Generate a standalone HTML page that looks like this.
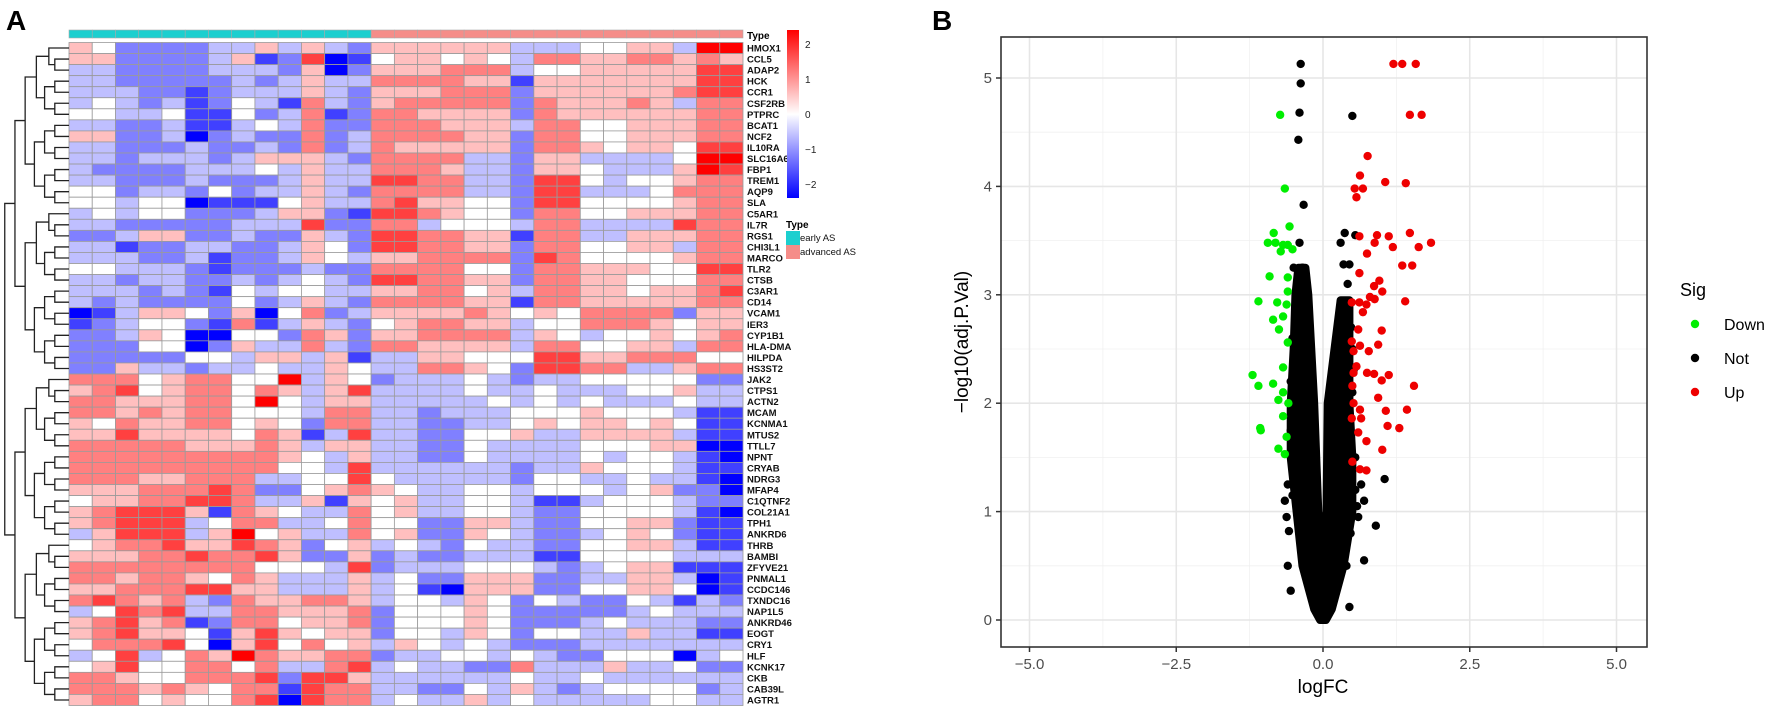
<!DOCTYPE html>
<html><head><meta charset="utf-8"><style>
html,body{margin:0;padding:0;background:#fff;}
svg{display:block;font-family:"Liberation Sans",Arial,sans-serif;}
</style></head><body>
<svg id="fig" width="1772" height="716" viewBox="0 0 1772 716" xmlns="http://www.w3.org/2000/svg">
<text x="6" y="30" font-size="28" font-weight="bold">A</text>
<text x="932" y="30" font-size="28" font-weight="bold">B</text>
<g id="heat"></g>
<g id="volc"></g>
</svg>
<script>
// ---------- Heatmap data ----------
const genes = ["HMOX1","CCL5","ADAP2","HCK","CCR1","CSF2RB","PTPRC","BCAT1","NCF2","IL10RA","SLC16A6","FBP1","TREM1","AQP9","SLA","C5AR1","IL7R","RGS1","CHI3L1","MARCO","TLR2","CTSB","C3AR1","CD14","VCAM1","IER3","CYP1B1","HLA-DMA","HILPDA","HS3ST2","JAK2","CTPS1","ACTN2","MCAM","KCNMA1","MTUS2","TTLL7","NPNT","CRYAB","NDRG3","MFAP4","C1QTNF2","COL21A1","TPH1","ANKRD6","THRB","BAMBI","ZFYVE21","PNMAL1","CCDC146","TXNDC16","NAP1L5","ANKRD46","EOGT","CRY1","HLF","KCNK17","CKB","CAB39L","AGTR1"];
const sampleTypes = ["early","early","early","early","early","early","early","early","early","early","early","early","early","advanced","advanced","advanced","advanced","advanced","advanced","advanced","advanced","advanced","advanced","advanced","advanced","advanced","advanced","advanced","advanced"];
// levels 0..8 -> z-score (L-4)*0.6
const levelRows = [
"5422223353532"+"5555553334455388",
"5522223512701"+"4554543665566565",
"3322223332502"+"5556663445555577",
"3322222323533"+"6666551555555577",
"3332212333532"+"5556662555555677",
"3432312431632"+"5666662655565366",
"4433411423612"+"6655552655555566",
"3322311343622"+"6665553664455566",
"5522302322623"+"6666552664455566",
"3322232232623"+"6555552665455477",
"3323332355532"+"6666332553333488",
"3222233343533"+"6665332554333587",
"3322232223533"+"7766332774344566",
"4423324233532"+"6666332773334666",
"4434401114533"+"6755442774444566",
"3434422235521"+"7765442664455566",
"3322222333722"+"6634443663333766",
"2235522322532"+"7766551663355566",
"3312233223542"+"7766552664455366",
"3332231223543"+"5566662764444566",
"4433321222322"+"6666442665554477",
"3323322323432"+"7766552665544466",
"3332321434433"+"5566453665545567",
"3232222423532"+"6666551665555566",
"0135542504623"+"5555654546666255",
"1234421613532"+"4566553446665455",
"2235400442652"+"5566663543445456",
"2224402533632"+"6655553664455366",
"2222244355351"+"3355444775566644",
"2253323343354"+"3366542776633566",
"6664566448354"+"2333432334444422",
"5674566465357"+"3333433433344533",
"6655566484355"+"3333343434333433",
"6656566444366"+"3323334445444311",
"5465566454266"+"3322334545545411",
"5575555465137"+"3322445335555311",
"6666655565355"+"3322433334445500",
"6666666665435"+"3322433334344310",
"6666666664437"+"3333332335444311",
"6665566633447"+"4333332443343310",
"5556667622456"+"5433443444345220",
"4556677633515"+"4533443113444322",
"5677751654336"+"4533443224444310",
"5677734663346"+"4422553224455211",
"3577735845336"+"4522543223454211",
"4566755765245"+"3432433224455311",
"5556676675225"+"2322333114444333",
"6666666644437"+"2333444323455111",
"6656654653335"+"3422555223355301",
"5566677553335"+"3410555224455401",
"6765632655665"+"3443542432243132",
"3476733665556"+"2444542222234333",
"5675612664556"+"2444542223433322",
"5675541575455"+"2443542443353311",
"4666740574645"+"3543432223333333",
"3473465865566"+"2334434322444034",
"4574466463367"+"3433226333533422",
"6654466672775"+"3333334334333333",
"6665654661766"+"3322435323444423",
"5664544670766"+"3433534333334433"
];
const hmLeft = 69, hmTop = 42.5, cellW = (743-69)/29, cellH = 11.05;
const SVGNS = "http://www.w3.org/2000/svg";
function mk(tag, attrs, parent){ const e=document.createElementNS(SVGNS,tag); for(const k in attrs) e.setAttribute(k,attrs[k]); parent.appendChild(e); return e; }
function zToColor(z){ let t=Math.max(-1,Math.min(1,z/2.4)); let r,g,b; if(t>=0){r=255;g=Math.round(255*(1-t));b=g;} else {b=255;r=Math.round(255*(1+t));g=r;} return `rgb(${r},${g},${b})`; }
const heat = document.getElementById('heat');
// annotation bar
sampleTypes.forEach((t,j)=>{
  const r = mk('rect',{x:hmLeft+j*cellW,y:30,width:cellW,height:8,fill:t==="early"?"#1ccfcf":"#f58d89",stroke:"#aaa","stroke-width":0.6},heat);
  
  
});
const tlab = mk('text',{x:747,y:39,"font-size":10,"font-weight":"bold"},heat); tlab.textContent="Type";
 
// cells
levelRows.forEach((row,i)=>{
  for(let j=0;j<29;j++){
    const z=(parseInt(row[j])-4)*0.6;
    const c = mk('rect',{x:hmLeft+j*cellW,y:hmTop+i*cellH,width:cellW,height:cellH,fill:zToColor(z),stroke:"#9a9a9a","stroke-width":0.8},heat);
    
    
  }
  const g = mk('text',{x:747,y:hmTop+i*cellH+cellH/2+3.5,"font-size":9.5,"font-weight":"bold",fill:"#111"},heat);
  g.textContent = genes[i];
  
  
});
// dendrogram
function dendro(a,b){ // returns [y, x]
  const n=b-a+1;
  if(n===1) return [hmTop+a*cellH+cellH/2, hmLeft];
  const m = (n===60)?a+29:(n===30?a+14:a+Math.floor(n/2)-1);
  const L=dendro(a,m), R=dendro(m+1,b);
  const x = hmLeft-4 - 10.2*Math.log2(n);
  const p = mk('path',{d:`M${L[1]},${L[0]}H${x}V${R[0]}H${R[1]}`,fill:"none",stroke:"#222","stroke-width":1.3},heat);
  
  
  return [(L[0]+R[0])/2, x];
}
dendro(0,59);
// colour bar
const defs = mk('defs',{},heat);
const lg = mk('linearGradient',{id:"cbar",x1:0,y1:1,x2:0,y2:0},defs);
mk('stop',{offset:"0","stop-color":"#0000ff"},lg); mk('stop',{offset:"0.5","stop-color":"#ffffff"},lg); mk('stop',{offset:"1","stop-color":"#ff0000"},lg);
const cb = mk('rect',{x:787,y:30,width:12,height:168,fill:"url(#cbar)"},heat);
 
const cbTicks=[2,1,0,-1,-2];
cbTicks.forEach(v=>{
  const y = 114 - v*(84/2.4);
  const t = mk('text',{x:805,y:y+4,"font-size":10,fill:"#222"},heat);
  t.textContent = v<0?"\u2212"+(-v):String(v);
   
});
// type legend
const tl = mk('text',{x:786,y:228,"font-size":10,"font-weight":"bold"},heat); tl.textContent="Type";
 
[["early AS","#1ccfcf",231],["advanced AS","#f58d89",245]].forEach(([lbl,col,y])=>{
  const r=mk('rect',{x:786,y:y,width:14,height:14,fill:col},heat);
   
  const t=mk('text',{x:800,y:y+10,"font-size":9.5,fill:"#111"},heat); t.textContent=lbl;
   
});

// ---------- Volcano data ----------
const downX = [-0.73,-0.65,-0.57,-0.84,-0.94,-0.81,-0.68,-0.60,-0.72,-0.52,-0.91,-0.60,-0.60,-1.10,-0.78,-0.62,-0.85,-0.68,-0.75,-0.60,-0.68,-1.20,-1.10,-0.85,-0.68,-0.76,-0.59,-0.68,-1.07,-1.06,-0.62,-0.76,-0.65];
const downY = [4.66,3.98,3.63,3.57,3.48,3.48,3.46,3.46,3.40,3.42,3.17,3.16,3.03,2.94,2.93,2.91,2.77,2.80,2.68,2.56,2.33,2.26,2.16,2.18,2.10,2.03,2.00,1.88,1.77,1.75,1.69,1.58,1.53];
const upX = [1.20,1.35,1.58,1.48,1.68,0.76,0.63,1.06,1.41,0.54,0.68,0.57,0.62,0.92,1.12,1.48,0.88,1.19,1.63,1.84,0.75,1.35,1.52,0.62,0.96,0.87,1.01,0.80,0.49,0.62,0.74,0.88,1.40,0.68,0.60,1.00,0.49,0.63,0.78,0.52,0.94,0.57,0.52,0.75,0.87,1.12,1.00,1.55,0.50,0.94,0.52,0.63,1.07,1.43,0.49,0.65,1.10,1.30,0.60,0.74,1.01,0.50,0.63,0.74];
const upY = [5.13,5.13,5.13,4.66,4.66,4.28,4.10,4.04,4.03,3.98,3.98,3.90,3.54,3.55,3.54,3.57,3.48,3.44,3.44,3.48,3.38,3.27,3.27,3.20,3.13,3.08,3.03,2.98,2.93,2.93,2.91,2.96,2.94,2.84,2.68,2.67,2.57,2.53,2.48,2.48,2.54,2.34,2.28,2.28,2.27,2.26,2.21,2.16,2.16,2.05,2.00,1.94,1.93,1.94,1.86,1.86,1.79,1.77,1.73,1.65,1.57,1.46,1.39,1.38];
const notX = [-0.38,-0.38,-0.40,-0.42,0.50,-0.33,-0.40,0.37,0.30,0.45,0.35,0.42,-0.50,-0.60,-0.65,-0.62,-0.58,-0.60,-0.55,0.70,0.90,1.05,0.65,0.70,0.45,0.40,0.60,0.55,-0.50,-0.55,-0.55,0.50,0.50,0.45,-0.52,-0.47,-0.35,0.55,-0.45,0.40,0.48,-0.50,0.55,0.58,-0.48,0.52,-0.52,0.47];
const notY = [5.13,4.95,4.68,4.43,4.65,3.83,3.48,3.57,3.48,3.28,3.28,3.10,3.25,1.25,1.10,0.95,0.82,0.50,0.27,0.55,0.87,1.30,1.25,1.10,0.12,0.50,0.95,1.50,1.40,1.75,2.20,2.10,2.50,1.90,2.60,2.90,3.25,3.55,2.35,2.80,2.70,1.95,1.20,1.05,1.60,2.30,1.15,0.80];
// dense core of non-significant genes: envelope of the point cloud
const coreOuterLeftY = [0.0,0.1,0.5,1.0,1.5,2.0,2.5,3.0,3.25];
const coreOuterLeftX = [-0.05,-0.15,-0.35,-0.45,-0.55,-0.55,-0.50,-0.47,-0.42];
const coreInnerLeftY = [3.25,3.0,2.0,1.0,0.6];
const coreInnerLeftX = [-0.30,-0.25,-0.15,-0.08,0.0];
const coreInnerRightY = [0.6,1.0,2.0,2.95];
const coreInnerRightX = [0.0,0.06,0.08,0.30];
const coreOuterRightY = [2.95,2.5,2.0,1.5,1.0,0.5,0.1,0.0];
const coreOuterRightX = [0.45,0.45,0.45,0.50,0.50,0.35,0.15,0.05];
const xTicks = [-5.0,-2.5,0.0,2.5,5.0];
const yTicks = [0,1,2,3,4,5];

const pL=1001,pR=1647,pT=37,pB=647;
const sx = v => 1323 + v*58.7;
const sy = v => 620 - v*108.4;
const vg = document.getElementById('volc');
const bg = mk('rect',{x:pL,y:pT,width:pR-pL,height:pB-pT,fill:"#fff"},vg);
 
// grid
for(let i=0;i<xTicks.length-1;i++){ const m=(xTicks[i]+xTicks[i+1])/2;
  const l=mk('line',{x1:sx(m),x2:sx(m),y1:pT,y2:pB,stroke:"#f0f0f0","stroke-width":0.8},vg);
    }
for(let i=0;i<yTicks.length-1;i++){ const m=(yTicks[i]+yTicks[i+1])/2;
  const l=mk('line',{x1:pL,x2:pR,y1:sy(m),y2:sy(m),stroke:"#f0f0f0","stroke-width":0.8},vg);
    }
xTicks.forEach(v=>{
  const l=mk('line',{x1:sx(v),x2:sx(v),y1:pT,y2:pB,stroke:"#e6e6e6","stroke-width":1.6},vg);
   
  const tk=mk('line',{x1:sx(v),x2:sx(v),y1:pB,y2:pB+5,stroke:"#333","stroke-width":1.5},vg);
   
  const t=mk('text',{x:sx(v),y:pB+22,"font-size":15,fill:"#4d4d4d","text-anchor":"middle"},vg);
  t.textContent=(v<0?"\u2212":"")+Math.abs(v).toFixed(1);
   
});
yTicks.forEach(v=>{
  const l=mk('line',{x1:pL,x2:pR,y1:sy(v),y2:sy(v),stroke:"#e6e6e6","stroke-width":1.6},vg);
   
  const tk=mk('line',{x1:pL-5,x2:pL,y1:sy(v),y2:sy(v),stroke:"#333","stroke-width":1.5},vg);
   
  const t=mk('text',{x:pL-9,y:sy(v)+5,"font-size":15,fill:"#4d4d4d","text-anchor":"end"},vg);
  t.textContent=String(v);
   
});
// dense core
let pts=[];
coreOuterLeftY.forEach((y,i)=>pts.push(sx(coreOuterLeftX[i])+","+sy(y)));
coreInnerLeftY.forEach((y,i)=>pts.push(sx(coreInnerLeftX[i])+","+sy(y)));
coreInnerRightY.forEach((y,i)=>pts.push(sx(coreInnerRightX[i])+","+sy(y)));
coreOuterRightY.forEach((y,i)=>pts.push(sx(coreOuterRightX[i])+","+sy(y)));
const core = mk('polygon',{points:pts.join(" "),fill:"#000",stroke:"#000","stroke-width":8,"stroke-linejoin":"round"},vg);
 
function drawPts(X,Y,col,name){ X.forEach((x,i)=>{ const c=mk('circle',{cx:sx(x),cy:sy(Y[i]),r:4.2,fill:col},vg);
  
   }); }
drawPts(notX,notY,"#000","point-not");
drawPts(downX,downY,"#00ee00","point-down");
drawPts(upX,upY,"#ee0000","point-up");
const border = mk('rect',{x:pL,y:pT,width:pR-pL,height:pB-pT,fill:"none",stroke:"#333","stroke-width":1.6},vg);
 
const xt = mk('text',{x:1323,y:pB+46,"font-size":19,"text-anchor":"middle",fill:"#000"},vg); xt.textContent="logFC";
 
const yt = mk('text',{x:0,y:0,"font-size":19,"text-anchor":"middle",fill:"#000",transform:"translate(968,342) rotate(-90)"},vg); yt.textContent="\u2212log10(adj.P.Val)";
 
// legend
const lt = mk('text',{x:1680,y:296,"font-size":18,fill:"#000"},vg); lt.textContent="Sig";
 
[["Down","#00ee00",324],["Not","#000",358],["Up","#ee0000",392]].forEach(([lbl,col,y])=>{
  const c=mk('circle',{cx:1695,cy:y,r:4.2,fill:col},vg);
   
  const t=mk('text',{x:1724,y:y+6,"font-size":16,fill:"#000"},vg); t.textContent=lbl;
   
});
</script>
</body></html>
